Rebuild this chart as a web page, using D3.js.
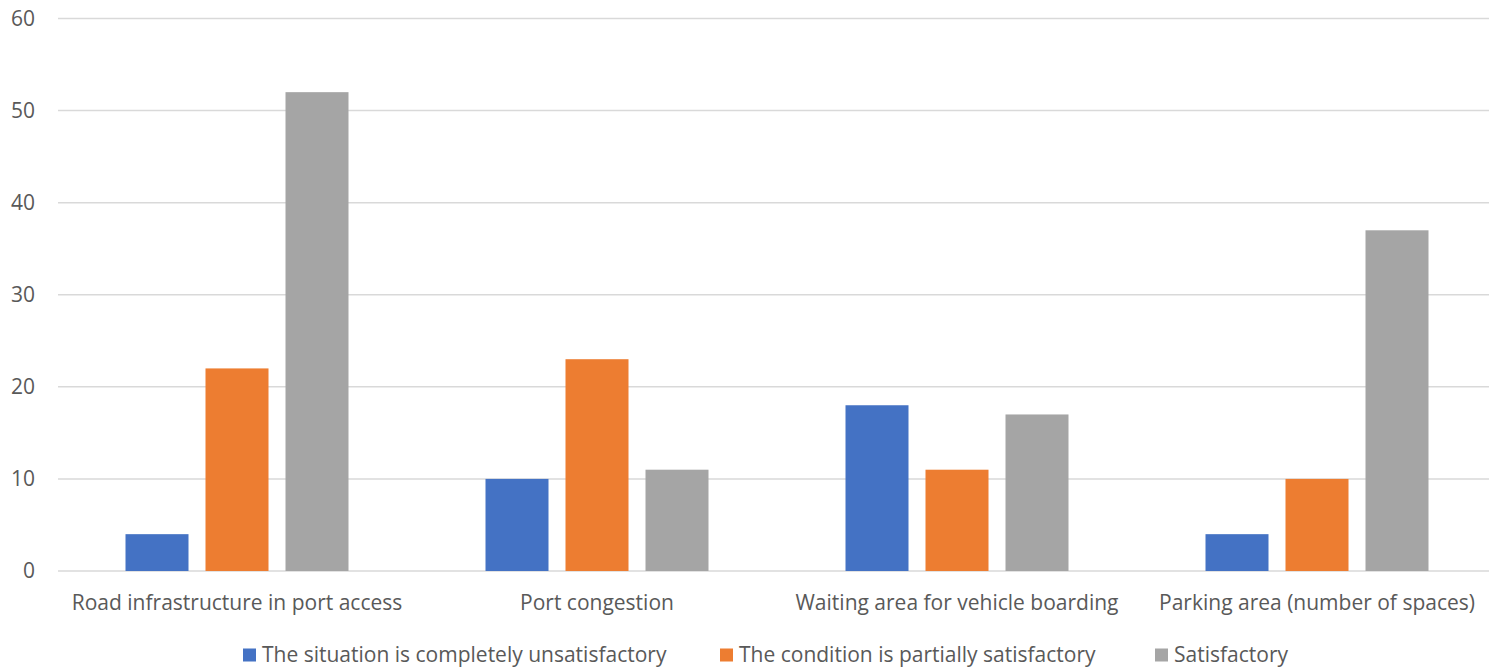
<!DOCTYPE html>
<html><head><meta charset="utf-8">
<script src="https://cdn.jsdelivr.net/npm/d3@7"></script>
<style>body{margin:0;background:#fff}svg{display:block}</style>
</head><body>
<svg id="c" width="1489" height="668"></svg>
<script>
const categories = ["Road infrastructure in port access", "Port congestion", "Waiting area for vehicle boarding", "Parking area (number of spaces)"];
const seriesNames = ["The situation is completely unsatisfactory", "The condition is partially satisfactory", "Satisfactory"];
const unsatisfactory = [4, 10, 18, 4];
const partial = [22, 23, 11, 10];
const satisfactory = [52, 11, 17, 37];
const yTicks = [0, 10, 20, 30, 40, 50, 60];
const colors = ["#4472C4", "#ED7D31", "#A5A5A5"];

const series = [unsatisfactory, partial, satisfactory];
const svg = d3.select("#c");
const font = "'Open Sans', sans-serif";
const fs = 21;
const L = 57, R = 1497, T = 18.5, B = 571;

const x = d3.scaleBand().domain(categories).range([L, R]).paddingInner(0).paddingOuter(0);
const y = d3.scaleLinear().domain([0, 60]).range([B, T]);
const groupW = 223;
const x1 = d3.scaleBand().domain(d3.range(3)).range([0, groupW]).paddingInner(17/80).paddingOuter(0);

// grid
svg.append("g").selectAll("line").data(yTicks).join("line")
  .attr("x1", L + 1).attr("x2", R).attr("y1", d => y(d)).attr("y2", d => y(d))
  .attr("stroke", "#d9d9d9").attr("stroke-width", 1.5);

// y labels
const yAxis = d3.axisLeft(y).tickValues(yTicks).tickSize(0).tickPadding(0);
const gy = svg.append("g").attr("transform", `translate(35,0)`).call(yAxis);
gy.select(".domain").remove();
gy.selectAll("text").attr("font-family", font).attr("font-size", fs).attr("fill", "#595959");

// bars
series.forEach((vals, si) => {
  svg.append("g").selectAll("rect").data(vals).join("rect")
    .attr("x", (d, i) => x(categories[i]) + (x.bandwidth() - groupW) / 2 + x1(si))
    .attr("width", x1.bandwidth())
    .attr("y", d => y(d))
    .attr("height", d => y(0) - y(d))
    .attr("fill", colors[si]);
});

// x labels
const xAxis = d3.axisBottom(x).tickSize(0).tickPadding(0);
const gx = svg.append("g").attr("transform", `translate(0,${B + 24})`).call(xAxis);
gx.select(".domain").remove();
gx.selectAll("text").attr("font-family", font).attr("font-size", fs).attr("fill", "#595959");

// legend
const legendX = [243, 720, 1155];
const lg = svg.append("g");
seriesNames.forEach((n, i) => {
  lg.append("rect").attr("x", legendX[i]).attr("y", 648.5).attr("width", 13).attr("height", 13).attr("fill", colors[i]);
  lg.append("text").attr("x", legendX[i] + 19).attr("y", 661.5).text(n)
    .attr("font-family", font).attr("font-size", fs).attr("fill", "#595959");
});
</script>
</body></html>
